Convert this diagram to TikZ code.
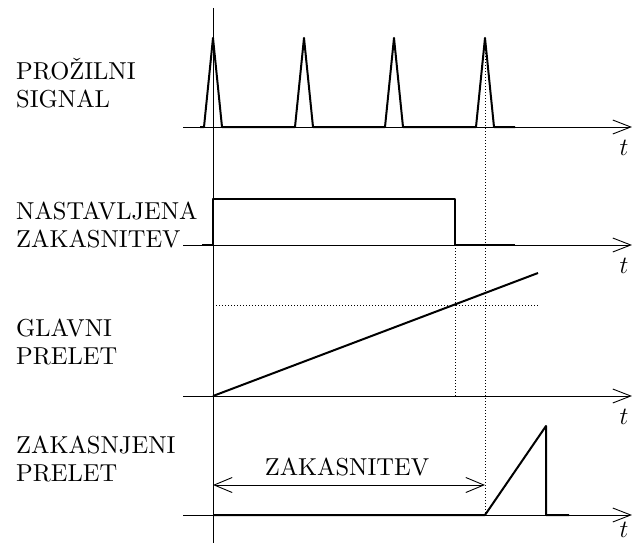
\documentclass[tikz,border=0pt]{standalone}
\usepackage{fontspec}
\setmainfont{lmroman10-regular}[Extension=.otf,ItalicFont=lmroman10-italic,BoldFont=lmroman10-bold]
\usetikzlibrary{arrows.meta}
\begin{document}
\begin{tikzpicture}[x=1pt,y=-1pt,
  axis/.style={line width=0.9pt},
  axtip/.style={-{Straight Barb[length=18pt,width=14pt,line width=0.9pt]}},
  dbltip/.style={{Straight Barb[length=18pt,width=15pt,line width=0.9pt]}-{Straight Barb[length=18pt,width=15pt,line width=0.9pt]}},
  sig/.style={line width=2pt, line join=round},
  dots/.style={line width=1pt, dash pattern=on 1pt off 2pt},
  lbl/.style={anchor=base west, inner sep=0pt, font=\fontsize{24.5}{28}\selectfont},
  tlbl/.style={anchor=base, inner sep=0pt, font=\fontsize{24.5}{28}\selectfont}]
\useasboundingbox (0,0) rectangle (632,543);

% coordinates
\coordinate (vtop) at (213,8);
\coordinate (vbot) at (213,543);
\foreach \n/\y in {1/127,2/245,3/396,4/515}{
  \coordinate (a\n s) at (183,\y);
  \coordinate (a\n e) at (632,\y);
}

% vertical axis
\draw[axis] (vtop) -- (vbot);
% horizontal axes
\foreach \n in {1,2,3,4}{
  \draw[axis,axtip] (a\n s) -- (a\n e);
}

% t labels
\node[tlbl] (t1) at (624,155) {$t$};
\node[tlbl] (t2) at (624,273) {$t$};
\node[tlbl] (t3) at (624,424) {$t$};
\node[tlbl] (t4) at (624,537) {$t$};

% left labels
\node[lbl] (l1a) at (16,79) {PRO\v{Z}ILNI};
\node[lbl] (l1b) at (16,107) {SIGNAL};
\node[lbl] (l2a) at (16,219) {NASTAVLJENA};
\node[lbl] (l2b) at (16,247) {ZAKASNITEV};
\node[lbl] (l3a) at (16,336) {GLAVNI};
\node[lbl] (l3b) at (16,364) {PRELET};
\node[lbl] (l4a) at (16,453) {ZAKASNJENI};
\node[lbl] (l4b) at (16,481) {PRELET};

% dotted guides
\coordinate (d1t) at (485,50);
\coordinate (d1b) at (485,515);
\coordinate (d2t) at (455,245);
\coordinate (d2b) at (455,396);
\coordinate (h1) at (213,305);
\coordinate (h2) at (538,305);
\draw[dots] (d1t) -- (d1b);
\draw[dots] (d2t) -- (d2b);
\draw[dots] (h1) -- (h2);

% signal 1: trigger pulses
\draw[sig] (200,127) -- (204,127) -- (213,38) -- (222,127) -- (295,127) -- (304,38) -- (313,127)
  -- (385,127) -- (394,38) -- (403,127) -- (476,127) -- (485,38) -- (494,127) -- (515,127);

% signal 2: delay gate
\draw[sig] (202,245) -- (213,245) -- (213,199) -- (455,199) -- (455,245) -- (515,245);

% signal 3: main sweep
\coordinate (r1) at (213,396);
\coordinate (r2) at (538,273);
\draw[sig] (r1) -- (r2);

% signal 4: delayed sweep
\draw[sig] (213,515) -- (485,515) -- (546,426) -- (546,515) -- (569,515);

% delay arrow
\coordinate (z1) at (213,485);
\coordinate (z2) at (485,485);
\draw[axis,dbltip] (z1) -- (z2);
\node[tlbl] (zl) at (347,475) {ZAKASNITEV};

\end{tikzpicture}
\end{document}
